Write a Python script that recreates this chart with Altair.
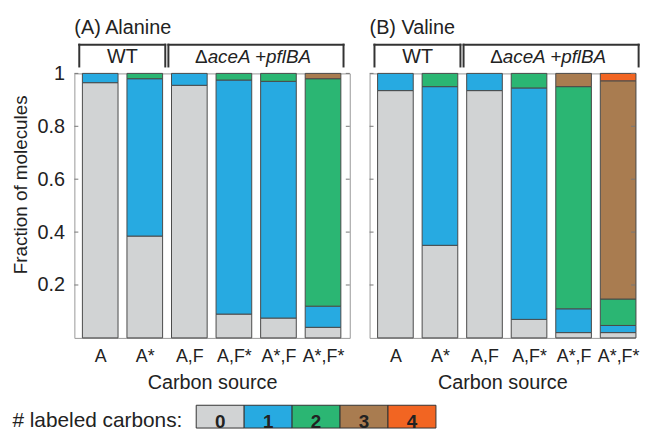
import json
import altair as alt
import pandas as pd

# ---------------- data ----------------
conditions = ["A", "A*", "A,F", "A,F*", "A*,F", "A*,F*"]
n_labels = ["0", "1", "2", "3", "4"]
palette = ["#D1D3D4", "#27AAE1", "#2BB673", "#A97C50", "#F26522"]

# Alanine: fraction of molecules with 0..4 labeled carbons per carbon source
ala_0 = [0.965, 0.385, 0.955, 0.090, 0.075, 0.040]
ala_1 = [0.035, 0.595, 0.045, 0.885, 0.895, 0.080]
ala_2 = [0.000, 0.020, 0.000, 0.025, 0.030, 0.860]
ala_3 = [0.000, 0.000, 0.000, 0.000, 0.000, 0.020]
ala_4 = [0.000, 0.000, 0.000, 0.000, 0.000, 0.000]

# Valine
val_0 = [0.935, 0.350, 0.935, 0.070, 0.020, 0.020]
val_1 = [0.065, 0.600, 0.065, 0.875, 0.090, 0.027]
val_2 = [0.000, 0.050, 0.000, 0.055, 0.840, 0.100]
val_3 = [0.000, 0.000, 0.000, 0.000, 0.050, 0.825]
val_4 = [0.000, 0.000, 0.000, 0.000, 0.000, 0.028]

y_ticks = [0.2, 0.4, 0.6, 0.8, 1.0]

group_names = ["WT", "aceA +pflBA"]
group_prefix = ["", "\u0394"]
group_italic = [False, True]
group_start = [0, 2]
group_end = [1, 5]

panel_titles = ["(A) Alanine", "(B) Valine"]
y_title = "Fraction of molecules"
x_title = "Carbon source"
legend_title = "# labeled carbons:"

FONT = "Liberation Sans"
TXT = "#222222"
H = 267


def long_df(series):
    rows = []
    for k, vals in enumerate(series):
        for i, v in enumerate(vals):
            if v > 0:
                rows.append({"cond": conditions[i], "idx": i, "n": k,
                             "lab": n_labels[k], "frac": v})
    return pd.DataFrame(rows)


yscale = alt.Scale(domain=[0, 1], nice=False, zero=True)
cscale = alt.Scale(domain=n_labels, range=palette)

header_df = pd.DataFrame({"name": group_names, "prefix": group_prefix,
                          "italic": group_italic, "start": group_start,
                          "end": group_end})
tick_df = pd.DataFrame({"v": y_ticks})


def panel(series, title, show_y, width, xmax):
    df = long_df(series)
    xscale = alt.Scale(domain=[-0.58, xmax], nice=False, zero=False)
    xaxis = alt.Axis(values=list(range(len(conditions))),
                     labelExpr=json.dumps(conditions) + "[datum.value]",
                     ticks=False, domain=False, grid=False, labelPadding=10,
                     labelFontSize=18, labelFlush=False, labelOverlap=False,
                     labelColor=TXT, title=x_title, titleFontSize=20,
                     titleFontWeight="normal", titleColor=TXT, titlePadding=7)
    if show_y:
        yaxis = alt.Axis(values=y_ticks, format="~g", ticks=False, domain=False,
                         grid=False, labelPadding=10, labelFontSize=20,
                         labelColor=TXT, title=y_title, titleFontSize=19,
                         titleFontWeight="normal", titleColor=TXT, titlePadding=7,
                         titleY=112)
    else:
        yaxis = None

    def X(field):
        return alt.X(field, scale=xscale, axis=xaxis)

    def Y(field):
        return alt.Y(field, scale=yscale, axis=yaxis)

    bars = alt.Chart(df).transform_window(
        top="sum(frac)", groupby=["cond"], sort=[alt.SortField("n")]
    ).transform_calculate(
        bottom="datum.top - datum.frac",
        x0="datum.idx - 0.4",
        x1="datum.idx + 0.4",
    ).mark_bar(stroke="#4a4a4a", strokeWidth=1).encode(
        x=X("x0:Q"),
        x2="x1:Q",
        y=Y("top:Q"),
        y2="bottom:Q",
        color=alt.Color("lab:N", scale=cscale, legend=None),
    )

    tick_l = alt.Chart(tick_df).mark_rule(color="#777777").encode(
        y=Y("v:Q"), x=alt.value(0), x2=alt.value(4))
    tick_r = alt.Chart(tick_df).mark_rule(color="#777777").encode(
        y=Y("v:Q"), x=alt.value(width - 4), x2=alt.value(width))

    hb = alt.Chart(header_df).transform_calculate(
        xs="datum.start - 0.47", xe="datum.end + 0.46",
        xc="(datum.start + datum.end) / 2")
    top_line = hb.mark_rule(strokeWidth=2, color="#333333", strokeCap="square").encode(
        x=X("xs:Q"), x2="xe:Q", y=alt.value(-29))
    sides = hb.transform_fold(["xs", "xe"], as_=["side", "xpos"]).mark_rule(
        strokeWidth=2, color="#333333", strokeCap="square").encode(
        x=X("xpos:Q"), y=alt.value(-29), y2=alt.value(-7))
    txt_plain = hb.transform_filter("!datum.italic").mark_text(
        fontSize=20, baseline="middle", align="center", color=TXT).encode(
        x=X("xc:Q"), y=alt.value(-16), text="name:N")
    txt_ital = hb.transform_filter("datum.italic").mark_text(
        fontSize=19, baseline="middle", align="left", fontStyle="italic",
        dx=-49, color=TXT).encode(
        x=X("xc:Q"), y=alt.value(-16), text="name:N")
    txt_pre = hb.transform_filter("datum.prefix != ''").mark_text(
        fontSize=19, baseline="middle", align="right", dx=-49, color=TXT).encode(
        x=X("xc:Q"), y=alt.value(-16), text="prefix:N")

    ttl = alt.Chart(pd.DataFrame({"t": [title]})).mark_text(
        align="left", baseline="alphabetic", fontSize=20, color=TXT).encode(
        x=alt.value(0), y=alt.value(-40), text="t:N")

    return alt.layer(bars, tick_l, tick_r, top_line, sides, txt_plain, txt_ital,
                     txt_pre, ttl).properties(
        width=width, height=H, view=alt.ViewBackground(stroke="#999999"))


panel_a = panel([ala_0, ala_1, ala_2, ala_3, ala_4], panel_titles[0], True, 278, 5.6)
panel_b = panel([val_0, val_1, val_2, val_3, val_4], panel_titles[1], False, 268, 5.38)

LEG_X0, LEG_X1 = 123, 365
leg_scale = alt.Scale(paddingInner=0, paddingOuter=0, range=[LEG_X0, LEG_X1])
leg_df = pd.DataFrame({"lab": n_labels})
leg_rect = alt.Chart(leg_df).mark_rect(stroke="#333333", strokeWidth=1).encode(
    x=alt.X("lab:N", scale=leg_scale, axis=None),
    color=alt.Color("lab:N", scale=cscale, legend=None),
)
leg_num = alt.Chart(leg_df).mark_text(fontSize=19, fontWeight="bold",
                                       baseline="middle", color=TXT).encode(
    x=alt.X("lab:N", scale=leg_scale, axis=None), y=alt.value(17), text="lab:N")
leg_ttl = alt.Chart(pd.DataFrame({"t": [legend_title]})).mark_text(
    align="right", baseline="middle", fontSize=21, color=TXT).encode(
    x=alt.value(LEG_X0 - 14), y=alt.value(16), text="t:N")
legend = alt.layer(leg_rect, leg_num, leg_ttl).properties(
    width=LEG_X1, height=23, view=alt.ViewBackground(stroke="transparent"))

top = alt.hconcat(panel_a, panel_b, spacing=18)
chart = alt.vconcat(top, legend, spacing=11).properties(
    padding={"left": 2, "top": 7, "right": 0, "bottom": 0}
).configure(font=FONT)

chart.save("out.html", embed_options={"renderer": "svg", "actions": False})
